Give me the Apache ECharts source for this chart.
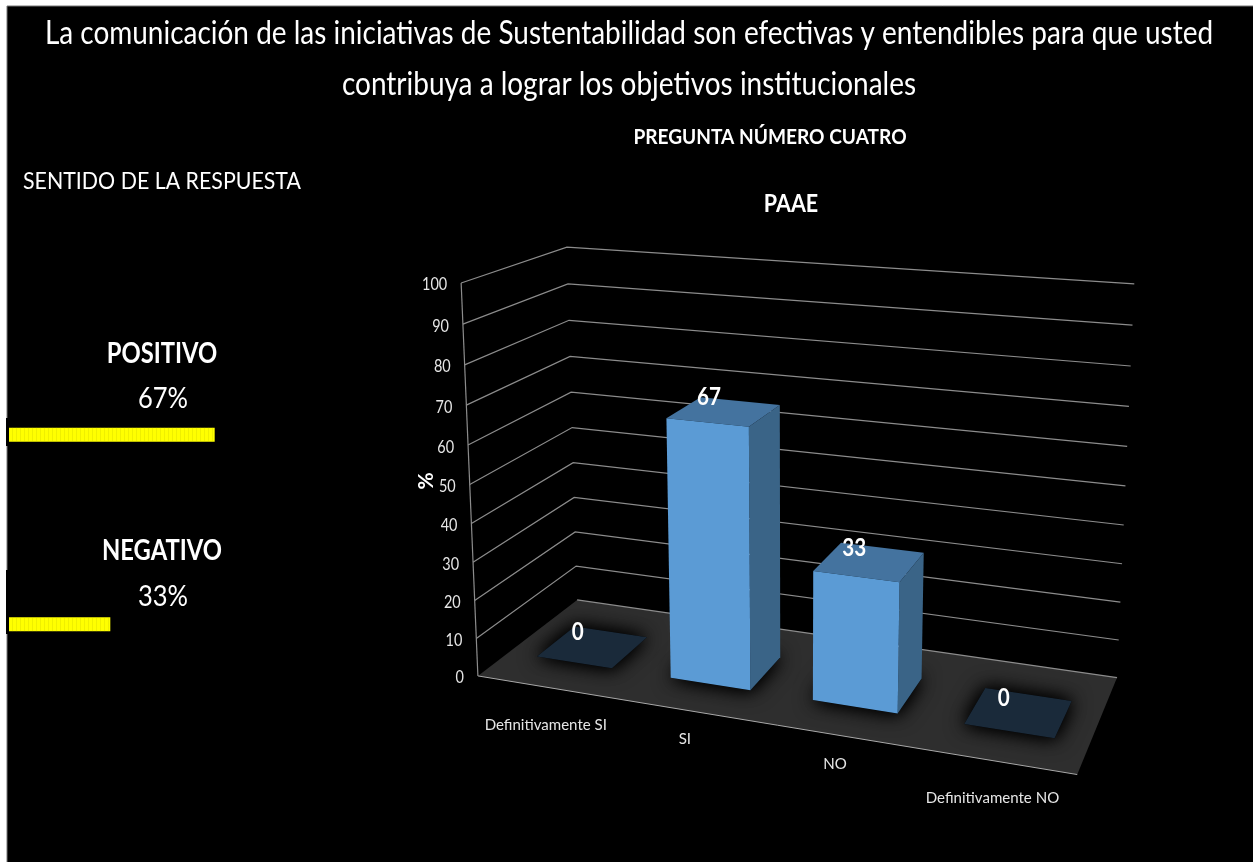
<!DOCTYPE html>
<html>
<head>
<meta charset="utf-8">
<title>Pregunta numero cuatro</title>
<style>
    html, body { margin: 0; padding: 0; background: #fff; }
    #chartData { width: 1253px; height: 862px; }
</style>
<script src="https://cdn.jsdelivr.net/npm/echarts@6/dist/echarts.min.js"></script>
</head>
<body>
<div id="chartData"></div>
<script>
// datos de la grafica
var categories = ['Definitivamente SI', 'SI', 'NO', 'Definitivamente NO'];
var values = [0, 67, 33, 0];
var tickValues = [0, 10, 20, 30, 40, 50, 60, 70, 80, 90, 100];
var sentidoLabels = ['POSITIVO', 'NEGATIVO'];
var sentidoValues = [67, 33];

var FONT = 'Lato';
var NARROW = 0.9; // la fuente del original es mas angosta

// puntos de control de la perspectiva: [x, y, z, pixelX, pixelY]
// x = ancho del piso, y = altura (0-1), z = profundidad
var anchors = [
    [0, 0, 0, 478, 676], [1, 0, 0, 1077, 775], [0, 0, 1, 577, 600], [1, 0, 1, 1117, 677],
    [0, 1, 0, 461, 283], [0, 1, 1, 567, 247], [1, 1, 1, 1134, 284],
    [0, .5, 0, 470, 484], [0, .5, 1, 572, 428], [1, .5, 1, 1126, 486]
];

// minimos cuadrados para la matriz de proyeccion 3x4
function solveProjection(points) {
    var n = 11, ata = [], i, j, k;
    for (i = 0; i < n; i++) {
        ata.push(new Array(n + 1).fill(0));
    }
    function addRow(row, rhs) {
        for (var a = 0; a < n; a++) {
            for (var b = 0; b < n; b++) ata[a][b] += row[a] * row[b];
            ata[a][n] += row[a] * rhs;
        }
    }
    points.forEach(function (p) {
        var X = p[0], Y = p[1], Z = p[2], u = p[3], v = p[4];
        addRow([X, Y, Z, 1, 0, 0, 0, 0, -u * X, -u * Y, -u * Z], u);
        addRow([0, 0, 0, 0, X, Y, Z, 1, -v * X, -v * Y, -v * Z], v);
    });
    for (i = 0; i < n; i++) {
        var best = i;
        for (k = i + 1; k < n; k++) {
            if (Math.abs(ata[k][i]) > Math.abs(ata[best][i])) best = k;
        }
        var tmp = ata[i]; ata[i] = ata[best]; ata[best] = tmp;
        for (k = i + 1; k < n; k++) {
            var f = ata[k][i] / ata[i][i];
            for (j = i; j <= n; j++) ata[k][j] -= f * ata[i][j];
        }
    }
    var m = new Array(n);
    for (i = n - 1; i >= 0; i--) {
        var s = ata[i][n];
        for (j = i + 1; j < n; j++) s -= ata[i][j] * m[j];
        m[i] = s / ata[i][i];
    }
    return m;
}

var M = solveProjection(anchors);

function project(x, y, z) {
    var w = M[8] * x + M[9] * y + M[10] * z + 1;
    return [
        (M[0] * x + M[1] * y + M[2] * z + M[3]) / w,
        (M[4] * x + M[5] * y + M[6] * z + M[7]) / w
    ];
}

// pasa de la escala del eje (rejilla oculta) a coordenadas normalizadas
function toUnit(params, api, cat, val) {
    var cs = params.coordSys;
    var pt = api.coord([cat, val]);
    return [(pt[0] - cs.x) / cs.width, (cs.y + cs.height - pt[1]) / cs.height];
}

var barZ0 = 0.29, barZ1 = 0.68, barHalf = 0.071;
var catLabelShift = [[1, 38], [0, 29], [1, 29], [-1, 37]];

function poly(points, fill, extra) {
    var style = {fill: fill};
    for (var key in extra) style[key] = extra[key];
    return {type: 'polygon', shape: {points: points}, style: style};
}

// texto angosto, se escala solo en horizontal
function label(x, y, text, font, fill, align, scale, rotation) {
    return {
        type: 'text', x: x, y: y, scaleX: scale || NARROW, rotation: rotation || 0,
        style: {x: 0, y: 0, text: text, fill: fill || '#fff', font: font + ' ' + FONT, align: align || 'center', verticalAlign: 'middle'}
    };
}

function renderFloor(params, api) {
    var a = project(0, 0, 0), b = project(1, 0, 0), c = project(1, 0, 1), d = project(0, 0, 1);
    return {
        type: 'group',
        children: [
            poly([a, b, c, d], '#2e2e2e'),
            {type: 'line', shape: {x1: a[0], y1: a[1], x2: b[0], y2: b[1]}, style: {stroke: '#a8a8a8', lineWidth: 1}}
        ]
    };
}

function renderGrid(params, api) {
    var u = toUnit(params, api, 0, api.value(0));
    var h = u[1];
    var front = project(0, h, 0), back = project(0, h, 1), right = project(1, h, 1);
    return {
        type: 'group',
        children: [
            {type: 'polyline', shape: {points: h === 0 ? [back, right] : [front, back, right]}, style: {fill: 'none', stroke: '#8c8c8c', lineWidth: 1.2}},
            label(front[0] - 14, front[1] + 2, String(api.value(0)), '17px', '#e6e6e6', 'right', 0.85)
        ]
    };
}

function renderAxisLine(params, api) {
    var a = project(0, 0, 0), b = project(0, 1, 0);
    return {type: 'line', shape: {x1: a[0], y1: a[1], x2: b[0], y2: b[1]}, style: {stroke: '#8c8c8c', lineWidth: 1.2}};
}

function renderBar(params, api) {
    var i = api.value(0);
    var val = api.value(1);
    var mid = toUnit(params, api, i, val);
    var x0 = mid[0] - barHalf, x1 = mid[0] + barHalf, h = mid[1];
    var a = project(x0, 0, barZ0), b = project(x1, 0, barZ0), c = project(x1, 0, barZ1), d = project(x0, 0, barZ1);
    var kids = [];
    // sombra difusa sobre el piso
    kids.push(poly([a, b, c, d], '#000', {shadowBlur: 22, shadowColor: '#000'}));
    kids.push(poly([a, b, c, d], val === 0 ? '#1a2a3a' : '#000', {shadowBlur: 16, shadowColor: '#000'}));
    if (val > 0) {
        var ta = project(x0, h, barZ0), tb = project(x1, h, barZ0), tc = project(x1, h, barZ1), td = project(x0, h, barZ1);
        kids.push(poly([b, c, tc, tb], '#3a6487'));
        kids.push(poly([ta, tb, tc, td], '#44739f'));
        kids.push(poly([a, b, tb, ta], '#5b9bd5'));
    }
    var lab = project(mid[0], h, (barZ0 + barZ1) / 2);
    kids.push(label(lab[0] - 15, lab[1] - 14, String(val), 'bold 24px', '#fff', 'center', 0.86));
    var base = project(mid[0], 0, 0);
    kids.push(label(base[0] + catLabelShift[i][0], base[1] + catLabelShift[i][1], categories[i], '16px', '#e6e6e6', 'center', 0.94));
    return {type: 'group', children: kids};
}

// fondo y textos fuera de la grafica
var sideText = [];
sideText.push({type: 'rect', shape: {x: 7, y: 6, width: 1260, height: 870}, style: {fill: '#000', stroke: '#777', lineWidth: 1}, z: -10});
sideText.push({type: 'rect', shape: {x: 6, y: 418, width: 4, height: 28}, style: {fill: '#000'}, z: -9});
sideText.push({type: 'rect', shape: {x: 6, y: 570, width: 4, height: 64}, style: {fill: '#000'}, z: -9});
sideText.push(label(629, 34, 'La comunicación de las iniciativas de Sustentabilidad son efectivas y entendibles para que usted', '32px', '#fff', 'center', 0.874));
sideText.push(label(629, 85, 'contribuya a lograr los objetivos institucionales', '32px', '#fff', 'center', 0.874));
sideText.push(label(770, 137, 'PREGUNTA NÚMERO CUATRO', 'bold 21px', '#fff', 'center', 0.91));
sideText.push(label(791, 204, 'PAAE', 'bold 25px', '#fff', 'center', 0.86));
sideText.push(label(23, 181, 'SENTIDO DE LA RESPUESTA', '24px', '#fff', 'left', 0.89));
sideText.push(label(426, 481, '%', 'bold 21px', '#fff', 'center', 1, Math.PI / 2));
var labelY = [354, 551], valueY = [399, 597];
sentidoLabels.forEach(function (name, i) {
    sideText.push(label(162, labelY[i], name, 'bold 28px', '#fff', 'center', 0.85));
    sideText.push(label(163, valueY[i], sentidoValues[i] + '%', '29px', '#fff', 'center', 0.88));
});

var myChart = echarts.init(document.getElementById('chartData'), null, {renderer: 'canvas'});

var option = {
    backgroundColor: '#fff',
    animation: false,
    graphic: sideText,
    grid: [
        {left: 0, top: 0, width: 1000, height: 1000, show: false},
        {left: 9, top: 340, width: 307, height: 379, show: false}
    ],
    xAxis: [
        {gridIndex: 0, type: 'category', data: categories, show: false},
        {gridIndex: 1, type: 'value', min: 0, max: 100, show: false}
    ],
    yAxis: [
        {gridIndex: 0, type: 'value', min: 0, max: 100, show: false},
        {gridIndex: 1, type: 'category', data: sentidoLabels, inverse: true, show: false}
    ],
    series: [
        {type: 'custom', name: 'piso', xAxisIndex: 0, yAxisIndex: 0, data: [[0, 0]], renderItem: renderFloor, z: 1, silent: true},
        {type: 'custom', name: 'rejilla', xAxisIndex: 0, yAxisIndex: 0, data: tickValues.map(function (t) { return [t]; }), encode: {y: 0}, renderItem: renderGrid, z: 2, silent: true},
        {type: 'custom', name: 'eje', xAxisIndex: 0, yAxisIndex: 0, data: [[0, 0]], renderItem: renderAxisLine, z: 2, silent: true},
        {
            type: 'custom', name: 'barras', xAxisIndex: 0, yAxisIndex: 0, z: 3,
            data: values.map(function (v, i) { return [i, v]; }),
            encode: {x: 0, y: 1},
            renderItem: renderBar
        },
        {
            type: 'bar', name: 'sentido', xAxisIndex: 1, yAxisIndex: 1, barWidth: 14, z: 3,
            data: sentidoValues,
            itemStyle: {
                color: '#ffff00',
                decal: {symbol: 'rect', symbolSize: 1, dashArrayX: [1, 3], dashArrayY: [4, 0], color: 'rgba(190,190,0,0.25)'}
            }
        }
    ]
};

myChart.setOption(option);
</script>
</body>
</html>
